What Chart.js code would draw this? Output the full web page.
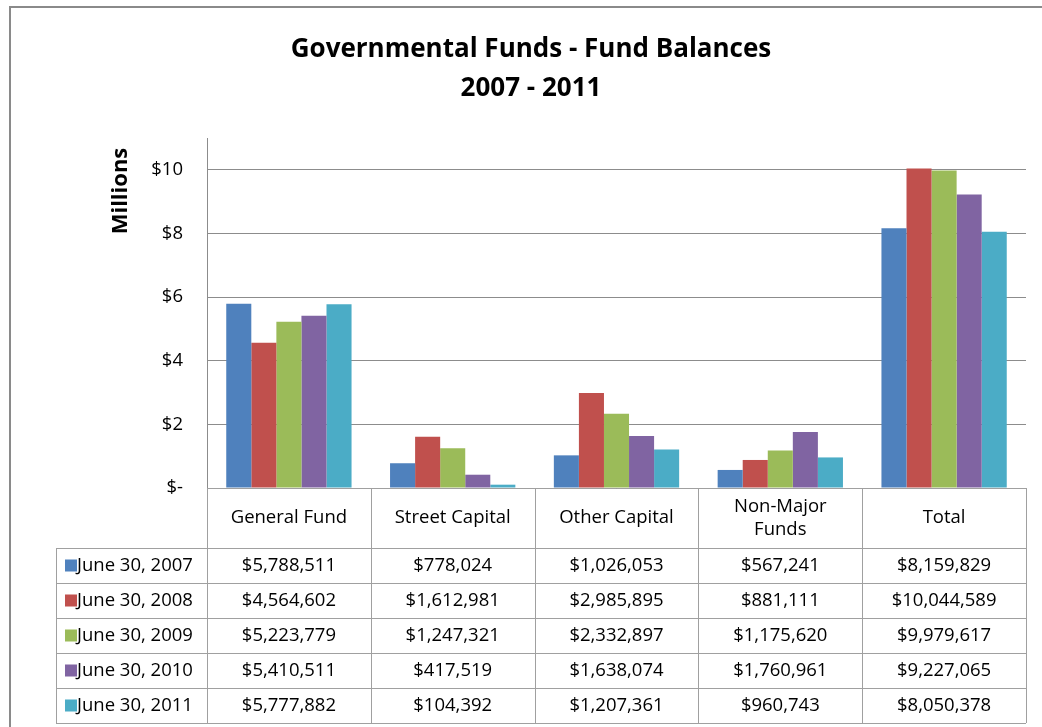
<!DOCTYPE html>
<html>
<head>
<meta charset="utf-8">
<script src="https://cdn.jsdelivr.net/npm/chart.js@4"></script>
<style>
  html, body { margin: 0; padding: 0; background: #fff; }
  #wrap { width: 1042px; height: 727px; }
</style>
</head>
<body>
<div id="wrap"><canvas id="fundChart" width="1042" height="727"></canvas></div>
<script>
// categories and series (dollars)
var funds = ["General Fund", "Street Capital", "Other Capital", ["Non-Major", "Funds"], "Total"];
var years = ["June 30, 2007", "June 30, 2008", "June 30, 2009", "June 30, 2010", "June 30, 2011"];
var june2007 = [5788511, 778024, 1026053, 567241, 8159829];
var june2008 = [4564602, 1612981, 2985895, 881111, 10044589];
var june2009 = [5223779, 1247321, 2332897, 1175620, 9979617];
var june2010 = [5410511, 417519, 1638074, 1760961, 9227065];
var june2011 = [5777882, 104392, 1207361, 960743, 8050378];
var yTicks = [0, 2000000, 4000000, 6000000, 8000000, 10000000];

var colours = ["#4F81BD", "#C0504D", "#9BBB59", "#8064A2", "#4BACC6"];
var series = [june2007, june2008, june2009, june2010, june2011];
var font = "'Open Sans', Lato, sans-serif";

var datasets = series.map(function(s, i){
    return {
        label: years[i],
        data: s,
        backgroundColor: colours[i],
        borderWidth: 0,
        categoryPercentage: 0.765,
        barPercentage: 1.0
    };
});

function money(v){
    return "$" + v.toLocaleString("en-US");
}

// draws the frame, the y title and the data table under the plot
var dataTable = {
    id: "dataTable",
    beforeDraw: function(chart){
        var ctx = chart.ctx;
        ctx.save();
        ctx.fillStyle = "#fff";
        ctx.fillRect(0, 0, chart.width, chart.height);
        ctx.strokeStyle = "#8a8a8a";
        ctx.lineWidth = 2;
        ctx.strokeRect(10, 7, 1200, 900);
        ctx.restore();
    },
    afterDraw: function(chart){
        var ctx = chart.ctx;
        var area = chart.chartArea;
        var x = chart.scales.x;
        var n = funds.length;
        var colW = (area.right - area.left) / n;
        var headTop = area.bottom;
        var headH = 60;
        var rowH = 35;
        var legLeft = 56;
        var bodyTop = headTop + headH;
        var bottom = bodyTop + rowH * years.length;

        ctx.save();
        // y axis title, near the top like the original
        ctx.save();
        ctx.translate(121, 191);
        ctx.rotate(-Math.PI / 2);
        ctx.font = "bold 22px " + font;
        ctx.fillStyle = "#000";
        ctx.textAlign = "center";
        ctx.textBaseline = "middle";
        ctx.fillText("Millions", 0, 0);
        ctx.restore();

        ctx.strokeStyle = "#a0a0a0";
        ctx.lineWidth = 1;
        ctx.beginPath();
        ctx.moveTo(area.left, headTop + 0.5); ctx.lineTo(area.right, headTop + 0.5);
        for (var r = 0; r <= years.length; r++) {
            var yy = Math.round(bodyTop + r * rowH) + 0.5;
            ctx.moveTo(legLeft, yy); ctx.lineTo(area.right, yy);
        }
        ctx.moveTo(legLeft + 0.5, bodyTop); ctx.lineTo(legLeft + 0.5, bottom);
        for (var c = 0; c <= n; c++) {
            var xx = Math.round(area.left + c * colW) + 0.5;
            ctx.moveTo(xx, headTop); ctx.lineTo(xx, bottom);
        }
        ctx.stroke();

        ctx.fillStyle = "#000";
        ctx.font = "18.5px " + font;
        ctx.textAlign = "center";
        ctx.textBaseline = "middle";
        funds.forEach(function(f, i){
            var cx = x.getPixelForTick(i);
            var lines = Array.isArray(f) ? f : [f];
            var lh = 23;
            var start = headTop + headH / 2 - (lines.length - 1) * lh / 2;
            lines.forEach(function(t, k){ ctx.fillText(t, cx, start + k * lh); });
        });
        series.forEach(function(s, r){
            var cy = bodyTop + r * rowH + rowH / 2;
            ctx.fillStyle = colours[r];
            ctx.fillRect(legLeft + 9, cy - 6, 12, 12);
            ctx.fillStyle = "#000";
            ctx.textAlign = "left";
            ctx.fillText(years[r], legLeft + 21, cy);
            ctx.textAlign = "center";
            s.forEach(function(v, i){
                ctx.fillText(money(v), x.getPixelForTick(i), cy);
            });
        });
        ctx.restore();
    }
};

var myChart = new Chart(document.getElementById("fundChart"), {
    type: "bar",
    data: { labels: funds, datasets: datasets },
    plugins: [dataTable],
    options: {
        responsive: false,
        animation: false,
        layout: { padding: { left: 36, right: 16, top: 0, bottom: 239 } },
        plugins: {
            legend: { display: false },
            tooltip: { enabled: false },
            title: {
                display: true,
                text: ["Governmental Funds - Fund Balances", "2007 - 2011"],
                color: "#000",
                font: { family: font, size: 26, weight: "bold", lineHeight: 1.5 },
                padding: { top: 30, bottom: 30 }
            }
        },
        scales: {
            x: { display: false },
            y: {
                min: 0,
                max: 11000000,
                afterBuildTicks: function(scale){
                    scale.ticks = yTicks.map(function(v){ return { value: v }; });
                },
                afterFit: function(scale){ scale.width = 171; },
                grid: { color: "#8c8c8c", drawTicks: false },
                border: { color: "#8c8c8c" },
                ticks: {
                    padding: 24,
                    color: "#000",
                    font: { family: font, size: 18.5 },
                    callback: function(v){ return v === 0 ? "$-" : "$" + (v / 1000000); }
                }
            }
        }
    }
});
</script>
</body>
</html>
